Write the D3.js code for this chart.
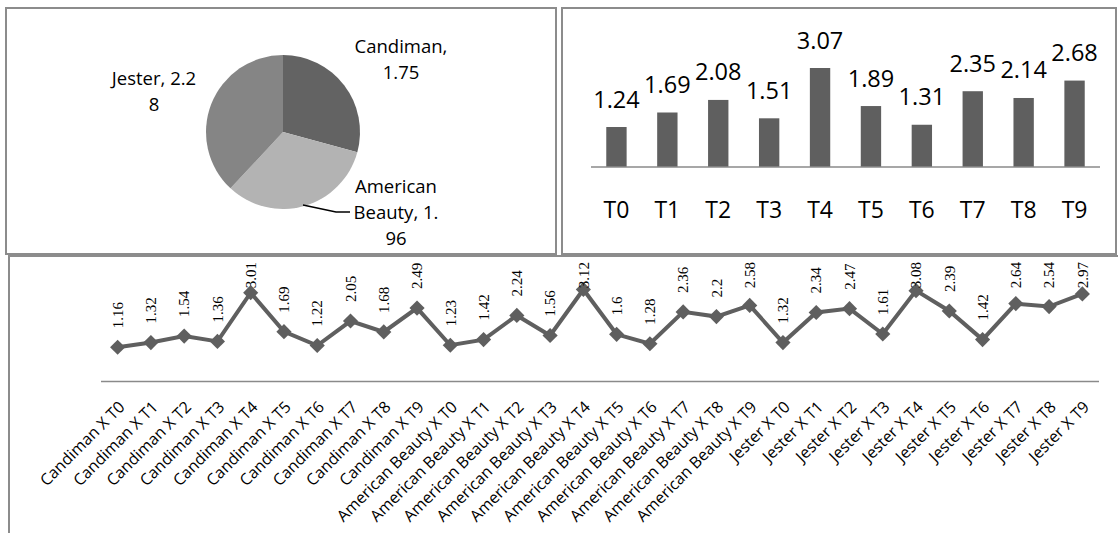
<!DOCTYPE html>
<html>
<head>
<meta charset="utf-8">
<script src="https://cdn.jsdelivr.net/npm/d3@7"></script>
<style>
  html, body { margin: 0; padding: 0; background: #fff; }
  svg { display: block; }
</style>
</head>
<body>
<svg id="chart" width="1118" height="533"></svg>
<script>
// ---- data ----
const pieNames = ["Candiman", "American Beauty", "Jester"];
const pieValues = [1.75, 1.96, 2.28];
const pieColors = ["#636363", "#b3b3b3", "#858585"];
// character offsets where each pie label wraps onto a new line
const pieLabelBreaks = [[9], [8, 19], [11]];

const barCats = ["T0", "T1", "T2", "T3", "T4", "T5", "T6", "T7", "T8", "T9"];
const barValues = [1.24, 1.69, 2.08, 1.51, 3.07, 1.89, 1.31, 2.35, 2.14, 2.68];

const lineGroups = ["Candiman", "American Beauty", "Jester"];
const lineCats = lineGroups.flatMap(g => barCats.map(t => g + " X " + t));
const lineValues = [
  1.16, 1.32, 1.54, 1.36, 3.01, 1.69, 1.22, 2.05, 1.68, 2.49,
  1.23, 1.42, 2.24, 1.56, 3.12, 1.6, 1.28, 2.36, 2.2, 2.58,
  1.32, 2.34, 2.47, 1.61, 3.08, 2.39, 1.42, 2.64, 2.54, 2.97
];

const svg = d3.select("#chart");
const sans = "'Open Sans', 'Noto Sans', sans-serif";
const serif = "'Liberation Serif', 'DejaVu Serif', serif";
const frame = "#8c8c8c";
const ink = "#5f5f5f";

// ---- panel frames ----
svg.append("rect").attr("x", 6).attr("y", 8).attr("width", 550).attr("height", 246)
  .attr("fill", "none").attr("stroke", frame).attr("stroke-width", 2);
svg.append("rect").attr("x", 562).attr("y", 8).attr("width", 554).attr("height", 246)
  .attr("fill", "none").attr("stroke", frame).attr("stroke-width", 2);
svg.append("path").attr("d", "M9,533 V256 H1118")
  .attr("fill", "none").attr("stroke", frame).attr("stroke-width", 2);

// ---- pie ----
const pieG = svg.append("g").attr("transform", "translate(283,132)");
const arcs = d3.pie().sort(null).value(d => d)(pieValues);
const arc = d3.arc().innerRadius(0).outerRadius(77);
pieG.selectAll("path.slice").data(arcs).join("path")
  .attr("class", "slice")
  .attr("d", arc)
  .attr("fill", (d, i) => pieColors[i]);

function wrapLabel(text, breaks) {
  const out = [];
  let prev = 0;
  breaks.forEach(b => { out.push(text.slice(prev, b).trim()); prev = b; });
  out.push(text.slice(prev).trim());
  return out;
}
const pieLabelPos = [
  { x: 401, y: 53 },
  { x: 396, y: 193 },
  { x: 154, y: 85 }
];
pieNames.forEach((name, i) => {
  const lines = wrapLabel(name + ", " + pieValues[i], pieLabelBreaks[i]);
  const t = svg.append("text")
    .attr("font-family", sans).attr("font-size", 18.5).attr("fill", "#000")
    .attr("text-anchor", "middle");
  lines.forEach((ln, k) => {
    t.append("tspan").attr("x", pieLabelPos[i].x).attr("y", pieLabelPos[i].y + k * 26).text(ln);
  });
});
// leader line for the American Beauty label
svg.append("path").attr("d", "M303,205 L336,212 L350,212")
  .attr("fill", "none").attr("stroke", "#000").attr("stroke-width", 1.5);

// ---- bar chart ----
const bx = d3.scaleBand().domain(barCats).range([591, 1100]).paddingInner(0.6).paddingOuter(0.3);
const by = d3.scaleLinear().domain([0, 3.07]).range([167, 68]);
svg.selectAll("rect.bar").data(barValues).join("rect")
  .attr("class", "bar")
  .attr("x", (d, i) => bx(barCats[i]))
  .attr("width", bx.bandwidth())
  .attr("y", d => by(d))
  .attr("height", d => by(0) - by(d))
  .attr("fill", ink);
svg.append("line").attr("x1", 591).attr("x2", 1100).attr("y1", by(0)).attr("y2", by(0))
  .attr("stroke", "#8a8a8a").attr("stroke-width", 1.5);
svg.selectAll("text.barval").data(barValues).join("text")
  .attr("class", "barval")
  .attr("x", (d, i) => bx(barCats[i]) + bx.bandwidth() / 2)
  .attr("y", d => by(d) - 19.5)
  .attr("text-anchor", "middle")
  .attr("font-family", sans).attr("font-size", 23.5).attr("fill", "#000")
  .text(d => String(d));
svg.selectAll("text.barcat").data(barCats).join("text")
  .attr("class", "barcat")
  .attr("x", d => bx(d) + bx.bandwidth() / 2)
  .attr("y", 218)
  .attr("text-anchor", "middle")
  .attr("font-family", sans).attr("font-size", 23).attr("fill", "#000")
  .text(d => d);

// ---- line chart ----
const lx = d3.scaleBand().domain(lineCats).range([101, 1099]);
const ly = d3.scaleLinear().domain([0, 1]).range([381.5, 352]);
const cx = i => lx(lineCats[i]) + lx.bandwidth() / 2;

svg.append("line").attr("x1", 101).attr("x2", 1099).attr("y1", ly(0)).attr("y2", ly(0))
  .attr("stroke", "#8a8a8a").attr("stroke-width", 1.5);

const lineGen = d3.line().x((d, i) => cx(i)).y(d => ly(d));
svg.append("path").datum(lineValues).attr("d", lineGen)
  .attr("fill", "none").attr("stroke", ink).attr("stroke-width", 4)
  .attr("stroke-linejoin", "miter");
const diamond = d3.symbol().type(d3.symbolSquare).size(115);
svg.selectAll("path.marker").data(lineValues).join("path")
  .attr("class", "marker")
  .attr("d", diamond)
  .attr("transform", (d, i) => `translate(${cx(i)},${ly(d)}) rotate(45)`)
  .attr("fill", ink);

// value labels, rotated, kept inside the plot area
const topLimit = 262;
svg.selectAll("text.lineval").data(lineValues).join("text")
  .attr("class", "lineval")
  .attr("font-family", serif).attr("font-size", 15).attr("fill", "#000")
  .attr("dy", "0.35em")
  .text(d => String(d))
  .each(function (d, i) {
    const len = this.getComputedTextLength();
    let y0 = ly(d) - 19;
    if (y0 - len < topLimit) y0 = topLimit + len;
    d3.select(this).attr("transform", `translate(${cx(i)},${y0}) rotate(-90)`);
  });

// category labels at 45 degrees
svg.selectAll("text.linecat").data(lineCats).join("text")
  .attr("class", "linecat")
  .attr("font-family", sans).attr("font-size", 16).attr("fill", "#000")
  .attr("text-anchor", "end")
  .attr("transform", (d, i) => `translate(${cx(i) + 4},${404}) rotate(-45)`)
  .attr("dy", "0.35em")
  .text(d => d);
</script>
</body>
</html>
